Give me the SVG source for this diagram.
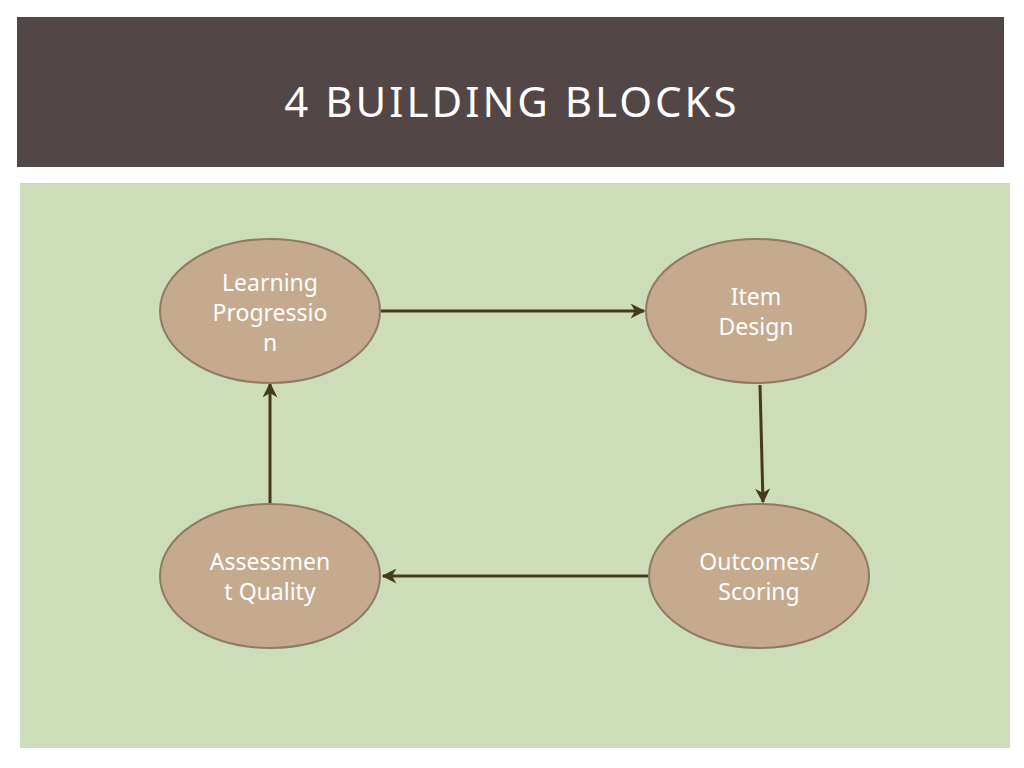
<svg xmlns="http://www.w3.org/2000/svg" width="1024" height="768" viewBox="0 0 1024 768">
<style>
.n ellipse{fill:#c6aa8e;stroke:#8e7b62;stroke-width:2}
.n text{fill:#fff;font-family:"Noto Sans","Open Sans",sans-serif;font-size:23px;text-anchor:middle}
.c line{stroke:#45391f;stroke-width:3;marker-end:url(#a)}
</style>
<defs><marker id="a" viewBox="0 0 10 10" refX="9" refY="5" markerWidth="5" markerHeight="5" orient="auto" markerUnits="strokeWidth"><path d="M0,0L10,5L0,10L3,5Z" fill="#45391f"/></marker></defs>
<rect width="1024" height="768" fill="#fff"/>
<rect x="17" y="17" width="987" height="150" fill="#524646"/>
<text x="512" y="117" fill="#fff" font-family="Noto Sans,Open Sans,sans-serif" font-size="42" letter-spacing="3" text-anchor="middle">4 BUILDING BLOCKS</text>
<rect x="20" y="183" width="990" height="565" fill="#cddcb9"/>
<g class="c">
<line x1="381" y1="311" x2="644" y2="311"/>
<line x1="760" y1="385" x2="763" y2="502"/>
<line x1="648" y1="576" x2="383" y2="576"/>
<line x1="270" y1="503" x2="270" y2="384"/>
</g>
<g id="lp" class="n"><ellipse cx="270" cy="311" rx="110" ry="72"/><text x="270" y="291">Learning</text><text x="270" y="321">Progressio</text><text x="270" y="351">n</text></g>
<g id="id" class="n"><ellipse cx="756" cy="311" rx="110" ry="72"/><text x="756" y="305">Item</text><text x="756" y="335">Design</text></g>
<g id="oc" class="n"><ellipse cx="759" cy="576" rx="110" ry="72"/><text x="759" y="570">Outcomes/</text><text x="759" y="600">Scoring</text></g>
<g id="aq" class="n"><ellipse cx="270" cy="576" rx="110" ry="72"/><text x="270" y="570">Assessmen</text><text x="270" y="600">t Quality</text></g>
</svg>
